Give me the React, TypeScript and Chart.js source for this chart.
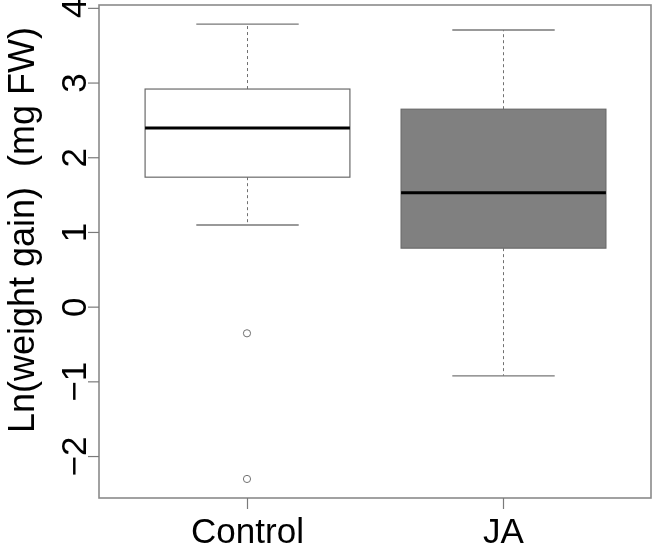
import React, { useEffect, useRef } from "react";
import { Chart, registerables } from "chart.js";

Chart.register(...registerables);

// ---- data ----
const categories = ["Control", "JA"];
const whiskerLow = [1.1, -0.92];
const q1 = [1.74, 0.79];
const medians = [2.4, 1.53];
const q3 = [2.92, 2.65];
const whiskerHigh = [3.79, 3.71];
const outliersControl = [-0.35, -2.3];
const outliersJA: number[] = [];
const outlierGroups = [outliersControl, outliersJA];
const yTicks = [-2, -1, 0, 1, 2, 3, 4];
const yTitle = "Ln(weight gain)  (mg FW)";

// ---- style ----
const boxFills = ["#FFFFFF", "#808080"];
const FONT = '"Liberation Sans", Arial, sans-serif';
const BOX_HALF = 0.4;
const Y_MIN = -2.555;
const Y_MAX = 4.045;
const X_MIN = 0.422;
const X_MAX = 2.578;

const fmt = (v: number) => (v < 0 ? "\u2212" + Math.abs(v) : String(v));

const boxplotPlugin = {
  id: "rboxplot",
  beforeDatasetsDraw(chart: any) {
    const { ctx, scales } = chart;
    const x = scales.x;
    const y = scales.y;
    const line = (x1: number, y1: number, x2: number, y2: number) => {
      ctx.beginPath();
      ctx.moveTo(x1, y1);
      ctx.lineTo(x2, y2);
      ctx.stroke();
    };
    ctx.save();
    categories.forEach((_, i) => {
      const xc = Math.round(x.getPixelForValue(i + 1)) + 0.5;
      const half = x.getPixelForValue(i + 1 + BOX_HALF) - x.getPixelForValue(i + 1);
      const yLo = y.getPixelForValue(whiskerLow[i]);
      const yQ1 = y.getPixelForValue(q1[i]);
      const yMed = y.getPixelForValue(medians[i]);
      const yQ3 = y.getPixelForValue(q3[i]);
      const yHi = y.getPixelForValue(whiskerHigh[i]);
      // whiskers
      ctx.strokeStyle = "#707070";
      ctx.lineWidth = 1;
      ctx.setLineDash([3, 3]);
      line(xc, yQ3, xc, yHi);
      line(xc, yQ1, xc, yLo);
      ctx.setLineDash([]);
      // staples
      ctx.strokeStyle = "#777777";
      ctx.lineWidth = 1.3;
      line(xc - half / 2, yHi, xc + half / 2, yHi);
      line(xc - half / 2, yLo, xc + half / 2, yLo);
      // box
      ctx.fillStyle = boxFills[i];
      ctx.fillRect(xc - half, yQ3, 2 * half, yQ1 - yQ3);
      ctx.strokeStyle = "#6a6a6a";
      ctx.lineWidth = 1.2;
      ctx.strokeRect(xc - half, yQ3, 2 * half, yQ1 - yQ3);
      // median
      ctx.strokeStyle = "#000000";
      ctx.lineWidth = 3;
      line(xc - half, yMed, xc + half, yMed);
    });
    ctx.restore();
  },
  afterDraw(chart: any) {
    const { ctx, scales, chartArea } = chart;
    const x = scales.x;
    const y = scales.y;
    const { left, right, top, bottom } = chartArea;
    ctx.save();
    // frame
    ctx.strokeStyle = "#8a8a8a";
    ctx.lineWidth = 1.6;
    ctx.strokeRect(left, top, right - left, bottom - top);
    // y ticks
    ctx.lineWidth = 1.2;
    ctx.fillStyle = "#000";
    ctx.font = `35px ${FONT}`;
    yTicks.forEach((v) => {
      const yp = y.getPixelForValue(v);
      ctx.strokeStyle = "#7a7a7a";
      ctx.beginPath();
      ctx.moveTo(left - 11, yp);
      ctx.lineTo(left, yp);
      ctx.stroke();
      ctx.save();
      ctx.translate(left - 13, yp);
      ctx.rotate(-Math.PI / 2);
      ctx.textAlign = "center";
      ctx.textBaseline = "alphabetic";
      ctx.fillText(fmt(v), 0, 0);
      ctx.restore();
    });
    // x ticks
    categories.forEach((c, i) => {
      const xp = Math.round(x.getPixelForValue(i + 1)) + 0.5;
      ctx.strokeStyle = "#7a7a7a";
      ctx.beginPath();
      ctx.moveTo(xp, bottom);
      ctx.lineTo(xp, bottom + 11);
      ctx.stroke();
      ctx.textAlign = "center";
      ctx.textBaseline = "alphabetic";
      ctx.fillText(c, xp, bottom + 45);
    });
    // y title
    ctx.save();
    ctx.font = `36px ${FONT}`;
    ctx.translate(34, 230);
    ctx.rotate(-Math.PI / 2);
    ctx.textAlign = "center";
    ctx.textBaseline = "alphabetic";
    ctx.fillText(yTitle, 0, 0);
    ctx.restore();
    ctx.restore();
  },
};

export default function App() {
  const ref = useRef<HTMLCanvasElement>(null);
  useEffect(() => {
    document.body.style.margin = "0";
    const canvas = ref.current!;
    const outlierPoints = outlierGroups.flatMap((g, i) =>
      g.map((v) => ({ x: i + 1, y: v }))
    );
    const chart = new Chart(canvas, {
      type: "scatter",
      data: {
        datasets: [
          {
            label: "outliers",
            data: outlierPoints,
            pointStyle: "circle",
            pointRadius: 3.6,
            pointBorderWidth: 1,
            pointBorderColor: "#707070",
            pointBackgroundColor: "rgba(0,0,0,0)",
          },
        ],
      },
      options: {
        responsive: false,
        animation: false,
        events: [],
        layout: { padding: { left: 99, right: 4, top: 3, bottom: 52 } },
        plugins: { legend: { display: false }, tooltip: { enabled: false } },
        scales: {
          x: { type: "linear", min: X_MIN, max: X_MAX, display: false },
          y: { type: "linear", min: Y_MIN, max: Y_MAX, display: false },
        },
      },
      plugins: [boxplotPlugin],
    });
    return () => chart.destroy();
  }, []);
  return (
    <div style={{ width: 656, height: 550, background: "#fff" }}>
      <canvas ref={ref} width={656} height={550} />
    </div>
  );
}
